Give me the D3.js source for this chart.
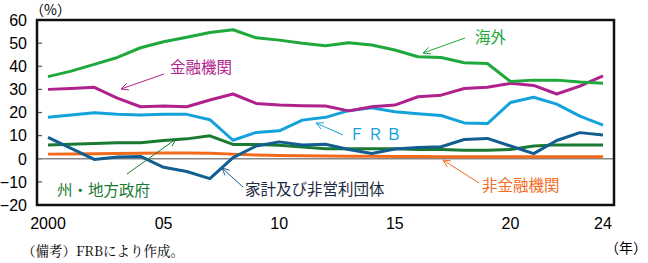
<!DOCTYPE html>
<html>
<head>
<meta charset="utf-8">
<script src="https://cdn.jsdelivr.net/npm/d3@7/dist/d3.min.js"></script>
<style>
  body { margin: 0; background: #fff; }
  text { font-family: "Noto Sans CJK JP", sans-serif; }
  .tick-label { font-family: "Liberation Sans Narrow", "Arial Narrow", "Liberation Sans", sans-serif; font-size: 16px; }
</style>
</head>
<body>
<svg id="chart" width="648" height="263"></svg>
<script>
// data (% shares by holder)
var years = [2000, 2001, 2002, 2003, 2004, 2005, 2006, 2007, 2008, 2009, 2010, 2011, 2012,
             2013, 2014, 2015, 2016, 2017, 2018, 2019, 2020, 2021, 2022, 2023, 2024];
var overseas = [35.5, 37.9, 40.8, 43.8, 48.0, 50.6, 52.5, 54.6, 55.8, 52.3, 51.3, 49.9, 48.9,
                50.2, 49.2, 47.0, 44.1, 43.8, 41.5, 41.2, 33.4, 34.0, 34.0, 33.2, 32.7];
var financial = [30.0, 30.4, 30.9, 26.2, 22.5, 22.8, 22.5, 25.4, 28.0, 23.9, 23.2, 22.9, 22.8,
                 20.7, 22.5, 23.2, 26.8, 27.5, 30.4, 30.9, 32.6, 31.7, 28.0, 31.4, 35.8];
var frb = [17.9, 18.9, 19.9, 19.2, 18.9, 19.2, 19.2, 16.9, 8.0, 11.4, 12.1, 16.7, 17.9,
           20.8, 22.0, 20.3, 19.5, 18.7, 15.5, 15.2, 24.3, 26.6, 23.6, 18.4, 14.5];
var stateLocal = [5.9, 6.3, 6.6, 6.9, 6.9, 7.9, 8.6, 9.9, 6.2, 6.2, 5.8, 5.1, 4.3,
                  4.3, 4.3, 4.3, 4.0, 4.0, 3.7, 3.7, 4.0, 5.5, 6.0, 6.0, 6.0];
var household = [9.2, 4.5, -0.3, 0.8, 1.0, -3.7, -5.5, -8.6, 0.5, 5.5, 7.3, 5.9, 6.3,
                 4.0, 2.3, 4.2, 4.9, 5.2, 8.3, 8.8, 5.5, 2.2, 7.9, 11.3, 10.3];
var nonFinancial = [2.0, 2.1, 2.2, 2.3, 2.4, 2.5, 2.5, 2.4, 2.0, 1.6, 1.4, 1.3, 1.2,
                    1.1, 1.1, 1.0, 1.0, 0.9, 0.9, 0.9, 0.9, 0.9, 0.9, 0.9, 0.9];
var yTicks = [60, 50, 40, 30, 20, 10, 0, -10, -20];
var xTicks = [2000, 2005, 2010, 2015, 2020, 2024];
var xTickLabels = ["2000", "05", "10", "15", "20", "24"];

var svg = d3.select("#chart");

var x = d3.scaleLinear().domain([2000, 2024]).range([48, 603]);
var y = d3.scaleLinear().domain([-20, 60]).range([205, 20]);

var frame = {left: 37, right: 614, top: 20, bottom: 205};

// y tick marks (inside) + labels
svg.selectAll(".ytick").data(yTicks).enter().append("line")
    .attr("x1", frame.left).attr("x2", frame.left + 5)
    .attr("y1", function(d) { return y(d); }).attr("y2", function(d) { return y(d); })
    .attr("stroke", "#555").attr("stroke-width", 1.2);

svg.selectAll(".ylab").data(yTicks).enter().append("text")
    .attr("class", "tick-label")
    .attr("x", 27)
    .attr("y", function(d) { return y(d); })
    .attr("dy", "0.36em")
    .attr("text-anchor", "end")
    .text(function(d) { return d < 0 ? "\u2212" + Math.abs(d) : d; });

svg.selectAll(".xlab").data(xTicks).enter().append("text")
    .attr("class", "tick-label")
    .attr("x", function(d) { return x(d); })
    .attr("y", 229)
    .attr("text-anchor", "middle")
    .text(function(d, i) { return xTickLabels[i]; });

// zero line
svg.append("line")
    .attr("x1", frame.left).attr("x2", frame.right)
    .attr("y1", y(0)).attr("y2", y(0))
    .attr("stroke", "#888").attr("stroke-width", 1.5);

var series = [
    {vals: nonFinancial, color: "#f26b1d"},
    {vals: stateLocal, color: "#1b7a32"},
    {vals: household, color: "#135e91"},
    {vals: frb, color: "#14a2dc"},
    {vals: financial, color: "#b1218d"},
    {vals: overseas, color: "#1fa83c"}
];

var line = d3.line()
    .x(function(d, i) { return x(years[i]); })
    .y(function(d) { return y(d); });

series.forEach(function(s) {
    svg.append("path")
        .datum(s.vals)
        .attr("fill", "none")
        .attr("stroke", s.color)
        .attr("stroke-width", 3)
        .attr("stroke-linejoin", "round")
        .attr("d", line);
});

// frame
svg.append("rect")
    .attr("x", frame.left).attr("y", frame.top)
    .attr("width", frame.right - frame.left).attr("height", frame.bottom - frame.top)
    .attr("fill", "none").attr("stroke", "#111").attr("stroke-width", 2.5);

// annotations: label + arrow (from -> to, head at "to")
var notes = [
    {text: "海外", color: "#1fa83c", tx: 475, ty: 37, from: [465, 38], to: [423, 53]},
    {text: "金融機関", color: "#b1218d", tx: 170, ty: 67, from: [164, 74], to: [121, 89]},
    {text: "ＦＲＢ", color: "#14a2dc", tx: 349, ty: 134, from: [343, 135], to: [316, 123], spacing: 3},
    {text: "家計及び非営利団体", color: "#1c2b3f", arrow: "#135e91", tx: 245, ty: 189, from: [243, 187], to: [222, 168]},
    {text: "州・地方政府", color: "#1b7a32", tx: 57, ty: 190, from: [127, 174], to: [176, 139]},
    {text: "非金融機関", color: "#f26b1d", tx: 482, ty: 185, from: [479, 183], to: [443, 160]}
];

notes.forEach(function(n) {
    var ac = n.arrow || n.color;
    svg.append("line")
        .attr("x1", n.from[0]).attr("y1", n.from[1])
        .attr("x2", n.to[0]).attr("y2", n.to[1])
        .attr("stroke", ac).attr("stroke-width", 1);
    var ang = Math.atan2(n.from[1] - n.to[1], n.from[0] - n.to[0]);
    [-0.45, 0.45].forEach(function(da) {
        svg.append("line")
            .attr("x1", n.to[0]).attr("y1", n.to[1])
            .attr("x2", n.to[0] + 8 * Math.cos(ang + da))
            .attr("y2", n.to[1] + 8 * Math.sin(ang + da))
            .attr("stroke", ac).attr("stroke-width", 1);
    });
    svg.append("text")
        .attr("x", n.tx).attr("y", n.ty)
        .attr("dy", "0.36em")
        .attr("fill", n.color)
        .attr("font-size", "15.5px")
        .attr("letter-spacing", n.spacing || 0)
        .text(n.text);
});

svg.append("text")
    .attr("x", 30).attr("y", 10)
    .attr("dy", "0.36em")
    .attr("font-size", "14px")
    .text("（%）");

svg.append("text")
    .attr("x", 647).attr("y", 248)
    .attr("dy", "0.36em")
    .attr("text-anchor", "end")
    .attr("font-size", "14px")
    .text("（年）");

svg.append("text")
    .attr("x", 22).attr("y", 251)
    .attr("dy", "0.36em")
    .attr("font-size", "13.5px")
    .style("font-family", "'Noto Serif CJK JP', 'Liberation Serif', serif")
    .text("（備考）FRBにより作成。");
</script>
</body>
</html>
